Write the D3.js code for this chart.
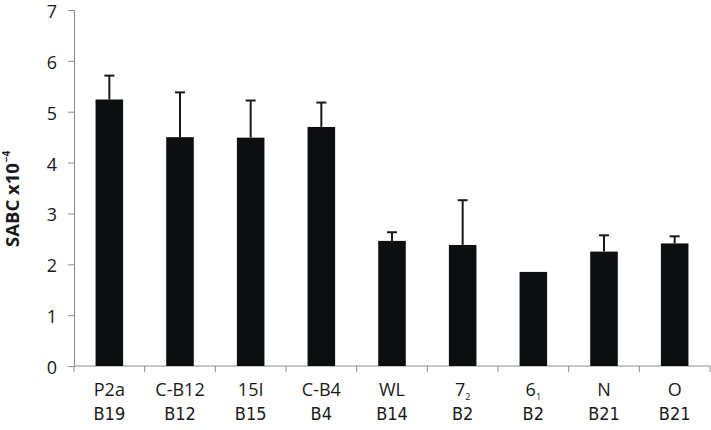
<!DOCTYPE html>
<html>
<head>
<meta charset="utf-8">
<script src="https://cdn.jsdelivr.net/npm/d3@7"></script>
<style>
  body { margin: 0; background: #fff; }
  svg { display: block; }
</style>
</head>
<body>
<svg id="chart"></svg>
<script>
const names = ["P2a", "C-B12", "15I", "C-B4", "WL", "7", "6", "N", "O"];
const subs = ["", "", "", "", "", "2", "1", "", ""];
const groups = ["B19", "B12", "B15", "B4", "B14", "B2", "B2", "B21", "B21"];
const values = [5.24, 4.50, 4.49, 4.70, 2.46, 2.38, 1.85, 2.25, 2.41];
const errors = [0.47, 0.88, 0.73, 0.48, 0.17, 0.88, 0, 0.32, 0.14];
const yTicks = [0, 1, 2, 3, 4, 5, 6, 7];

const svgWidth = 711, svgHeight = 430;
const margin = { top: 10, right: 1, bottom: 64, left: 74 };
const width = svgWidth - margin.left - margin.right;
const height = svgHeight - margin.top - margin.bottom;

const svg = d3.select("#chart")
  .attr("width", svgWidth)
  .attr("height", svgHeight);

const g = svg.append("g")
  .attr("transform", `translate(${margin.left},${margin.top})`);

const x = d3.scaleBand().domain(d3.range(names.length)).range([0, width]);
const y = d3.scaleLinear().domain([0, 7]).range([height, 0]);

// y axis
const yAxis = g.append("g")
  .call(d3.axisLeft(y).tickValues(yTicks).tickFormat(d3.format("d")).tickSize(6).tickPadding(11));
yAxis.select(".domain").attr("stroke", "#8c8c8c");
yAxis.selectAll(".tick line").attr("stroke", "#8c8c8c");
yAxis.selectAll(".tick text")
  .attr("font-family", "'Open Sans', sans-serif")
  .attr("font-size", 18)
  .attr("dy", "0.42em")
  .attr("fill", "#1a1a1a");

// x axis line + ticks at category boundaries
const xAxis = g.append("g").attr("transform", `translate(0,${height})`);
xAxis.append("line")
  .attr("x1", 0).attr("x2", width)
  .attr("stroke", "#8c8c8c");
xAxis.selectAll("line.tk")
  .data(d3.range(names.length + 1))
  .join("line")
  .attr("class", "tk")
  .attr("x1", i => i < names.length ? x(i) : width)
  .attr("x2", i => i < names.length ? x(i) : width)
  .attr("y1", 0).attr("y2", 6)
  .attr("stroke", "#8c8c8c");

// bars
const barW = x.bandwidth() * 0.39;
g.selectAll("rect.bar")
  .data(values)
  .join("rect")
  .attr("class", "bar")
  .attr("x", (d, i) => x(i) + x.bandwidth() / 2 - barW / 2)
  .attr("y", d => y(d))
  .attr("width", barW)
  .attr("height", d => height - y(d))
  .attr("fill", "#0d0e0f");

// error bars
const eb = g.selectAll("g.err")
  .data(values.map((v, i) => ({ v, e: errors[i], i })).filter(d => d.e > 0))
  .join("g")
  .attr("class", "err")
  .attr("stroke", "#1a1a1a")
  .attr("stroke-width", 2);
eb.append("line")
  .attr("x1", d => x(d.i) + x.bandwidth() / 2)
  .attr("x2", d => x(d.i) + x.bandwidth() / 2)
  .attr("y1", d => y(d.v))
  .attr("y2", d => y(d.v + d.e));
eb.append("line")
  .attr("x1", d => x(d.i) + x.bandwidth() / 2 - 5)
  .attr("x2", d => x(d.i) + x.bandwidth() / 2 + 5)
  .attr("y1", d => y(d.v + d.e))
  .attr("y2", d => y(d.v + d.e));

// category labels
const lab = xAxis.selectAll("text.name")
  .data(names)
  .join("text")
  .attr("class", "name")
  .attr("x", (d, i) => x(i) + x.bandwidth() / 2)
  .attr("y", 30)
  .attr("text-anchor", "middle")
  .attr("font-family", "'Open Sans', sans-serif")
  .attr("font-size", 18)
  .attr("fill", "#1a1a1a");
lab.append("tspan").text(d => d);
lab.append("tspan")
  .attr("font-size", 9)
  .attr("dy", 4)
  .text((d, i) => subs[i]);

xAxis.selectAll("text.group")
  .data(groups)
  .join("text")
  .attr("class", "group")
  .attr("x", (d, i) => x(i) + x.bandwidth() / 2)
  .attr("y", 54)
  .attr("text-anchor", "middle")
  .attr("font-family", "'Liberation Sans Narrow', 'DejaVu Sans Condensed', sans-serif")
  .attr("font-size", 18)
  .attr("fill", "#1a1a1a")
  .text(d => d);

// y title
const yt = svg.append("text")
  .attr("transform", "translate(19,247) rotate(-90)")
  .attr("text-anchor", "start")
  .attr("font-family", "'Open Sans', sans-serif")
  .attr("font-weight", "bold")
  .attr("font-size", 18.5)
  .attr("fill", "#1a1a1a");
yt.append("tspan").text("SABC x10");
yt.append("tspan").attr("font-size", 10).attr("dy", -9).attr("dx", 1).text("\u22124");
</script>
</body>
</html>
